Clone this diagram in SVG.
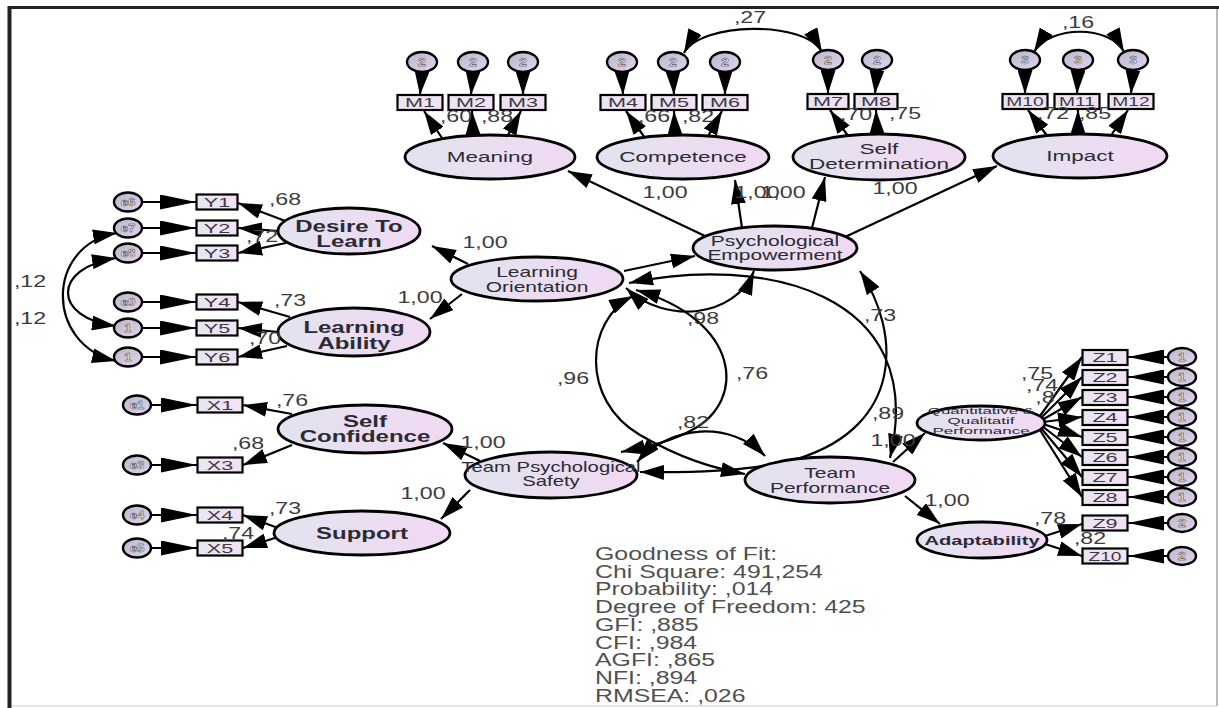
<svg xmlns="http://www.w3.org/2000/svg" width="1219" height="708" viewBox="0 0 1219 708">
<defs>
<linearGradient id="gl" x1="0" y1="0" x2="1" y2="0"><stop offset="0" stop-color="#e2e3ee"/><stop offset="1" stop-color="#f1d9f3"/></linearGradient>
<linearGradient id="gb" x1="0" y1="0" x2="1" y2="0"><stop offset="0" stop-color="#e9e5f1"/><stop offset="1" stop-color="#f3e1f4"/></linearGradient>
<linearGradient id="ge" x1="0" y1="0" x2="1" y2="1"><stop offset="0" stop-color="#b9b8cc"/><stop offset="1" stop-color="#e4d2ec"/></linearGradient>
<marker id="a" viewBox="0 0 24 15" refX="24" refY="7.5" markerWidth="24" markerHeight="15" markerUnits="userSpaceOnUse" orient="auto-start-reverse"><path d="M0,0 L24,7.5 L0,15 z" fill="#000"/></marker>
<marker id="b" viewBox="0 0 36 15" refX="36" refY="7.5" markerWidth="36" markerHeight="15" markerUnits="userSpaceOnUse" orient="auto-start-reverse"><path d="M0,0 L36,7.5 L0,15 z" fill="#000"/></marker>
</defs>
<style>
.lat{fill:url(#gl);stroke:#000;stroke-width:2.8}
.box{fill:url(#gb);stroke:#000;stroke-width:2.2}
.err{fill:url(#ge);stroke:#000;stroke-width:2.4}
.t{font-family:"Liberation Sans",Arial,sans-serif;text-anchor:middle;fill:#2b2b35}
.lt{font-size:15px}
.lb{font-size:16px;font-weight:bold}
.bt{font-size:12px;fill:#3a3a45}
.et{font-size:11px;font-weight:bold;fill:#eee;stroke:#333;stroke-width:0.4}
.n{font-family:"Liberation Sans",Arial,sans-serif;text-anchor:middle;font-size:16px;fill:#3c3c3c}
.g{font-family:"Liberation Sans",Arial,sans-serif;font-size:17.5px;fill:#505050}
.c path,.c line{fill:none;stroke:#000;stroke-width:2.2}
.ma{marker-end:url(#a)}
.mb{marker-end:url(#b)}
.m2{marker-start:url(#a);marker-end:url(#a)}
</style>
<rect x="0" y="0" width="1219" height="708" fill="#fff"/>
<g id="frame">
<line x1="8" y1="7.5" x2="1219" y2="7.5" stroke="#222" stroke-width="3"/>
<line x1="9.5" y1="6" x2="9.5" y2="708" stroke="#222" stroke-width="4"/>
<line x1="1217" y1="9" x2="1217" y2="706" stroke="#bbb" stroke-width="2"/>
<line x1="12" y1="706" x2="1217" y2="706" stroke="#ddd" stroke-width="1.5"/>
</g>

<g id="connectors" class="c">
<line class="ma" x1="422" y1="72" x2="420" y2="95"/>
<line class="ma" x1="473" y1="72" x2="471" y2="95"/>
<line class="ma" x1="523" y1="72" x2="523" y2="95"/>
<line class="ma" x1="622" y1="72" x2="623" y2="95"/>
<line class="ma" x1="673" y1="72" x2="674" y2="95"/>
<line class="ma" x1="725" y1="72" x2="725" y2="95"/>
<line class="ma" x1="828" y1="70" x2="828" y2="94"/>
<line class="ma" x1="877" y1="70" x2="875" y2="94"/>
<line class="ma" x1="1025" y1="70" x2="1025" y2="94"/>
<line class="ma" x1="1078" y1="70" x2="1077" y2="94"/>
<line class="ma" x1="1133" y1="70" x2="1131" y2="94"/>
<line class="mb" x1="142" y1="202" x2="196" y2="202"/>
<line class="mb" x1="142" y1="228" x2="196" y2="228"/>
<line class="mb" x1="142" y1="253" x2="196" y2="253"/>
<line class="mb" x1="142" y1="302" x2="196" y2="302"/>
<line class="mb" x1="142" y1="328" x2="196" y2="328"/>
<line class="mb" x1="142" y1="357" x2="196" y2="357"/>
<line class="mb" x1="151" y1="405" x2="197" y2="405"/>
<line class="mb" x1="151" y1="465" x2="197" y2="465"/>
<line class="mb" x1="151" y1="515" x2="197" y2="515"/>
<line class="mb" x1="151" y1="548" x2="197" y2="548"/>
<line class="mb" x1="1168" y1="357" x2="1128" y2="357"/>
<line class="mb" x1="1168" y1="377" x2="1128" y2="377"/>
<line class="mb" x1="1168" y1="397" x2="1128" y2="397"/>
<line class="mb" x1="1168" y1="417" x2="1128" y2="417"/>
<line class="mb" x1="1168" y1="437" x2="1128" y2="437"/>
<line class="mb" x1="1168" y1="457" x2="1128" y2="457"/>
<line class="mb" x1="1168" y1="477" x2="1128" y2="477"/>
<line class="mb" x1="1168" y1="497" x2="1128" y2="497"/>
<line class="mb" x1="1168" y1="523" x2="1128" y2="523"/>
<line class="mb" x1="1168" y1="556" x2="1128" y2="556"/>
<line class="ma" x1="442" y1="138" x2="424" y2="111"/>
<line class="ma" x1="473" y1="135" x2="472" y2="111"/>
<line class="ma" x1="507" y1="137" x2="521" y2="111"/>
<line class="ma" x1="645" y1="138" x2="626" y2="111"/>
<line class="ma" x1="675" y1="135" x2="674" y2="111"/>
<line class="ma" x1="707" y1="138" x2="722" y2="111"/>
<line class="ma" x1="848" y1="136" x2="830" y2="110"/>
<line class="ma" x1="877" y1="134" x2="876" y2="110"/>
<line class="ma" x1="1048" y1="137" x2="1028" y2="110"/>
<line class="ma" x1="1078" y1="134" x2="1078" y2="110"/>
<line class="ma" x1="1110" y1="137" x2="1128" y2="110"/>
<line class="ma" x1="705" y1="236" x2="568" y2="171"/>
<line class="ma" x1="742" y1="228" x2="735" y2="180"/>
<line class="ma" x1="812" y1="228" x2="825" y2="177"/>
<line class="ma" x1="845" y1="237" x2="997" y2="166"/>
<line class="ma" x1="468" y1="264" x2="432" y2="246"/>
<line class="ma" x1="462" y1="294" x2="430" y2="319"/>
<line class="ma" x1="480" y1="461" x2="443" y2="443"/>
<line class="ma" x1="470" y1="490" x2="441" y2="519"/>
<line class="ma" x1="288" y1="222" x2="238" y2="203"/>
<line class="ma" x1="278" y1="231" x2="238" y2="228"/>
<line class="ma" x1="286" y1="243" x2="238" y2="253"/>
<line class="ma" x1="290" y1="317" x2="238" y2="302"/>
<line class="ma" x1="278" y1="332" x2="238" y2="328"/>
<line class="ma" x1="287" y1="346" x2="238" y2="357"/>
<line class="ma" x1="292" y1="414" x2="243" y2="405"/>
<line class="ma" x1="292" y1="445" x2="243" y2="465"/>
<line class="ma" x1="278" y1="528" x2="243" y2="515"/>
<line class="ma" x1="278" y1="537" x2="243" y2="548"/>
<line class="ma" x1="1040" y1="416" x2="1082" y2="357"/>
<line class="ma" x1="1041" y1="418" x2="1082" y2="377"/>
<line class="ma" x1="1042" y1="420" x2="1082" y2="397"/>
<line class="ma" x1="1043" y1="422" x2="1082" y2="417"/>
<line class="ma" x1="1043" y1="424" x2="1082" y2="437"/>
<line class="ma" x1="1042" y1="426" x2="1082" y2="457"/>
<line class="ma" x1="1041" y1="428" x2="1082" y2="477"/>
<line class="ma" x1="1040" y1="430" x2="1082" y2="497"/>
<line class="ma" x1="1045" y1="536" x2="1082" y2="524"/>
<line class="ma" x1="1045" y1="544" x2="1082" y2="556"/>
<line class="ma" x1="893" y1="462" x2="925" y2="433"/>
<line class="ma" x1="905" y1="496" x2="940" y2="524"/>
<path class="m2" d="M117,233 C45,245 45,345 116,361"/>
<path class="m2" d="M116,258 C52,268 52,318 116,326"/>
<path class="m2" d="M684,53 C700,22 805,20 822,52"/>
<path class="m2" d="M1034,52 C1050,25 1110,25 1124,52"/>
<line class="ma" x1="624" y1="271" x2="695" y2="256"/>
<path class="m2" d="M626,288 C665,325 735,318 754,271"/>
<path class="m2" d="M629,283 C760,255 930,290 890,458"/>
<path class="m2" d="M860,271 C902,335 902,425 800,458 C760,470 700,473 640,472"/>
<path class="m2" d="M633,296 C585,320 580,400 640,435 C680,458 712,468 745,474"/>
<path class="m2" d="M636,290 C740,320 748,400 692,430 C668,443 645,447 621,452"/>
<path class="m2" d="M637,462 C670,425 730,420 765,456"/>
</g>

<g id="errors">
<ellipse class="err" cx="422" cy="62" rx="15" ry="10"/><text class="t et" transform="matrix(1.3 0 0 1 422 66)">2</text>
<ellipse class="err" cx="473" cy="62" rx="15" ry="10"/><text class="t et" transform="matrix(1.3 0 0 1 473 66)">2</text>
<ellipse class="err" cx="523" cy="62" rx="15" ry="10"/><text class="t et" transform="matrix(1.3 0 0 1 523 66)">2</text>
<ellipse class="err" cx="622" cy="62" rx="15" ry="10"/><text class="t et" transform="matrix(1.3 0 0 1 622 66)">2</text>
<ellipse class="err" cx="673" cy="62" rx="15" ry="10"/><text class="t et" transform="matrix(1.3 0 0 1 673 66)">2</text>
<ellipse class="err" cx="725" cy="62" rx="15" ry="10"/><text class="t et" transform="matrix(1.3 0 0 1 725 66)">2</text>
<ellipse class="err" cx="828" cy="60" rx="15" ry="10"/><text class="t et" transform="matrix(1.3 0 0 1 828 64)">2</text>
<ellipse class="err" cx="877" cy="60" rx="15" ry="10"/><text class="t et" transform="matrix(1.3 0 0 1 877 64)">2</text>
<ellipse class="err" cx="1025" cy="60" rx="15" ry="10"/><text class="t et" transform="matrix(1.3 0 0 1 1025 64)">3</text>
<ellipse class="err" cx="1078" cy="60" rx="15" ry="10"/><text class="t et" transform="matrix(1.3 0 0 1 1078 64)">3</text>
<ellipse class="err" cx="1133" cy="60" rx="15" ry="10"/><text class="t et" transform="matrix(1.3 0 0 1 1133 64)">3</text>
<ellipse class="err" cx="128" cy="202" rx="14" ry="9.5"/><text class="t et" transform="matrix(1.2 0 0 1 128 206)">e6</text>
<ellipse class="err" cx="128" cy="228" rx="14" ry="9.5"/><text class="t et" transform="matrix(1.2 0 0 1 128 232)">e7</text>
<ellipse class="err" cx="128" cy="253" rx="14" ry="9.5"/><text class="t et" transform="matrix(1.2 0 0 1 128 257)">e8</text>
<ellipse class="err" cx="128" cy="302" rx="14" ry="9.5"/><text class="t et" transform="matrix(1.2 0 0 1 128 306)">e9</text>
<ellipse class="err" cx="128" cy="328" rx="14" ry="9.5"/><text class="t et" transform="matrix(1.2 0 0 1 128 332)">1</text>
<ellipse class="err" cx="128" cy="357" rx="14" ry="9.5"/><text class="t et" transform="matrix(1.2 0 0 1 128 361)">1</text>
<ellipse class="err" cx="137" cy="405" rx="14" ry="9.5"/><text class="t et" transform="matrix(1.2 0 0 1 137 409)">e1</text>
<ellipse class="err" cx="137" cy="465" rx="14" ry="9.5"/><text class="t et" transform="matrix(1.2 0 0 1 137 469)">e3</text>
<ellipse class="err" cx="137" cy="515" rx="14" ry="9.5"/><text class="t et" transform="matrix(1.2 0 0 1 137 519)">e4</text>
<ellipse class="err" cx="137" cy="548" rx="14" ry="9.5"/><text class="t et" transform="matrix(1.2 0 0 1 137 552)">e5</text>
<ellipse class="err" cx="1182" cy="357" rx="14" ry="9"/><text class="t et" transform="matrix(1.3 0 0 1 1182 361)">1</text>
<ellipse class="err" cx="1182" cy="377" rx="14" ry="9"/><text class="t et" transform="matrix(1.3 0 0 1 1182 381)">1</text>
<ellipse class="err" cx="1182" cy="397" rx="14" ry="9"/><text class="t et" transform="matrix(1.3 0 0 1 1182 401)">1</text>
<ellipse class="err" cx="1182" cy="417" rx="14" ry="9"/><text class="t et" transform="matrix(1.3 0 0 1 1182 421)">1</text>
<ellipse class="err" cx="1182" cy="437" rx="14" ry="9"/><text class="t et" transform="matrix(1.3 0 0 1 1182 441)">1</text>
<ellipse class="err" cx="1182" cy="457" rx="14" ry="9"/><text class="t et" transform="matrix(1.3 0 0 1 1182 461)">1</text>
<ellipse class="err" cx="1182" cy="477" rx="14" ry="9"/><text class="t et" transform="matrix(1.3 0 0 1 1182 481)">1</text>
<ellipse class="err" cx="1182" cy="497" rx="14" ry="9"/><text class="t et" transform="matrix(1.3 0 0 1 1182 501)">1</text>
<ellipse class="err" cx="1182" cy="523" rx="14" ry="9"/><text class="t et" transform="matrix(1.3 0 0 1 1182 527)">2</text>
<ellipse class="err" cx="1182" cy="556" rx="14" ry="9"/><text class="t et" transform="matrix(1.3 0 0 1 1182 560)">2</text>
</g>

<g id="indicators">
<g id="M1"><rect class="box" x="397.5" y="95" width="45" height="15"/><text class="t bt" transform="matrix(1.8 0 0 1 420 107)">M1</text></g>
<g id="M2"><rect class="box" x="448.5" y="95" width="45" height="15"/><text class="t bt" transform="matrix(1.8 0 0 1 471 107)">M2</text></g>
<g id="M3"><rect class="box" x="500.5" y="95" width="45" height="15"/><text class="t bt" transform="matrix(1.8 0 0 1 523 107)">M3</text></g>
<g id="M4"><rect class="box" x="600.5" y="95" width="45" height="15"/><text class="t bt" transform="matrix(1.8 0 0 1 623 107)">M4</text></g>
<g id="M5"><rect class="box" x="651.5" y="95" width="45" height="15"/><text class="t bt" transform="matrix(1.8 0 0 1 674 107)">M5</text></g>
<g id="M6"><rect class="box" x="702.5" y="95" width="45" height="15"/><text class="t bt" transform="matrix(1.8 0 0 1 725 107)">M6</text></g>
<g id="M7"><rect class="box" x="807.5" y="94" width="41" height="15"/><text class="t bt" transform="matrix(1.8 0 0 1 828 106)">M7</text></g>
<g id="M8"><rect class="box" x="854.5" y="94" width="43" height="15"/><text class="t bt" transform="matrix(1.8 0 0 1 876 106)">M8</text></g>
<g id="M10"><rect class="box" x="1002.5" y="94" width="45" height="15"/><text class="t bt" transform="matrix(1.6 0 0 1 1025 106)">M10</text></g>
<g id="M11"><rect class="box" x="1054.5" y="94" width="45" height="15"/><text class="t bt" transform="matrix(1.6 0 0 1 1077 106)">M11</text></g>
<g id="M12"><rect class="box" x="1108.5" y="94" width="45" height="15"/><text class="t bt" transform="matrix(1.6 0 0 1 1131 106)">M12</text></g>
<g id="Y1"><rect class="box" x="196.5" y="194.5" width="41" height="15"/><text class="t bt" transform="matrix(1.8 0 0 1 217 206.5)">Y1</text></g>
<g id="Y2"><rect class="box" x="196.5" y="220.5" width="41" height="15"/><text class="t bt" transform="matrix(1.8 0 0 1 217 232.5)">Y2</text></g>
<g id="Y3"><rect class="box" x="196.5" y="245.5" width="41" height="15"/><text class="t bt" transform="matrix(1.8 0 0 1 217 257.5)">Y3</text></g>
<g id="Y4"><rect class="box" x="196.5" y="294.5" width="41" height="15"/><text class="t bt" transform="matrix(1.8 0 0 1 217 306.5)">Y4</text></g>
<g id="Y5"><rect class="box" x="196.5" y="320.5" width="41" height="15"/><text class="t bt" transform="matrix(1.8 0 0 1 217 332.5)">Y5</text></g>
<g id="Y6"><rect class="box" x="196.5" y="349.5" width="41" height="15"/><text class="t bt" transform="matrix(1.8 0 0 1 217 361.5)">Y6</text></g>
<g id="X1"><rect class="box" x="197.5" y="397.5" width="45" height="15"/><text class="t bt" transform="matrix(1.8 0 0 1 220 409.5)">X1</text></g>
<g id="X3"><rect class="box" x="197.5" y="457.5" width="45" height="15"/><text class="t bt" transform="matrix(1.8 0 0 1 220 469.5)">X3</text></g>
<g id="X4"><rect class="box" x="197.5" y="507.5" width="45" height="15"/><text class="t bt" transform="matrix(1.8 0 0 1 220 519.5)">X4</text></g>
<g id="X5"><rect class="box" x="197.5" y="540.5" width="45" height="15"/><text class="t bt" transform="matrix(1.8 0 0 1 220 552.5)">X5</text></g>
<g id="Z1"><rect class="box" x="1082.5" y="350" width="45" height="15"/><text class="t bt" transform="matrix(1.8 0 0 1 1105 362)">Z1</text></g>
<g id="Z2"><rect class="box" x="1082.5" y="370" width="45" height="15"/><text class="t bt" transform="matrix(1.8 0 0 1 1105 382)">Z2</text></g>
<g id="Z3"><rect class="box" x="1082.5" y="390" width="45" height="15"/><text class="t bt" transform="matrix(1.8 0 0 1 1105 402)">Z3</text></g>
<g id="Z4"><rect class="box" x="1082.5" y="410" width="45" height="15"/><text class="t bt" transform="matrix(1.8 0 0 1 1105 422)">Z4</text></g>
<g id="Z5"><rect class="box" x="1082.5" y="430" width="45" height="15"/><text class="t bt" transform="matrix(1.8 0 0 1 1105 442)">Z5</text></g>
<g id="Z6"><rect class="box" x="1082.5" y="450" width="45" height="15"/><text class="t bt" transform="matrix(1.8 0 0 1 1105 462)">Z6</text></g>
<g id="Z7"><rect class="box" x="1082.5" y="470" width="45" height="15"/><text class="t bt" transform="matrix(1.8 0 0 1 1105 482)">Z7</text></g>
<g id="Z8"><rect class="box" x="1082.5" y="490" width="45" height="15"/><text class="t bt" transform="matrix(1.8 0 0 1 1105 502)">Z8</text></g>
<g id="Z9"><rect class="box" x="1082.5" y="515.5" width="45" height="15"/><text class="t bt" transform="matrix(1.8 0 0 1 1105 527.5)">Z9</text></g>
<g id="Z10"><rect class="box" x="1082.5" y="548.5" width="45" height="15"/><text class="t bt" transform="matrix(1.6 0 0 1 1105 560.5)">Z10</text></g>
</g>

<g id="latents">
<g id="meaning"><ellipse class="lat" cx="490" cy="157" rx="85" ry="22"/><text class="t lt" transform="matrix(1.5 0 0 1 490 162)">Meaning</text></g>
<g id="competence"><ellipse class="lat" cx="683" cy="157" rx="86" ry="22"/><text class="t lt" transform="matrix(1.5 0 0 1 683 162)">Competence</text></g>
<g id="selfdet"><ellipse class="lat" cx="879" cy="157" rx="86" ry="23"/><text class="t lt" transform="matrix(1.5 0 0 1 879 154)"><tspan x="0">Self</tspan><tspan x="0" dy="15">Determination</tspan></text></g>
<g id="impact"><ellipse class="lat" cx="1080" cy="156" rx="87" ry="22"/><text class="t lt" transform="matrix(1.5 0 0 1 1080 161)">Impact</text></g>
<g id="desire"><ellipse class="lat" cx="349" cy="231" rx="71" ry="23"/><text class="t lb" transform="matrix(1.5 0 0 1 349 232)"><tspan x="0">Desire To</tspan><tspan x="0" dy="15">Learn</tspan></text></g>
<g id="ability"><ellipse class="lat" cx="354" cy="332" rx="76" ry="24"/><text class="t lb" transform="matrix(1.5 0 0 1 354 333)"><tspan x="0">Learning</tspan><tspan x="0" dy="16">Ability</tspan></text></g>
<g id="selfconf"><ellipse class="lat" cx="365" cy="429" rx="87" ry="24"/><text class="t lb" transform="matrix(1.5 0 0 1 365 427)"><tspan x="0">Self</tspan><tspan x="0" dy="15">Confidence</tspan></text></g>
<g id="support"><ellipse class="lat" cx="362" cy="533" rx="88" ry="22"/><text class="t lb" transform="matrix(1.5 0 0 1 362 539)">Support</text></g>
<g id="lo"><ellipse class="lat" cx="537" cy="279" rx="86" ry="22"/><text class="t" font-size="14" transform="matrix(1.5 0 0 1 537 277)"><tspan x="0">Learning</tspan><tspan x="0" dy="15">Orientation</tspan></text></g>
<g id="pe"><ellipse class="lat" cx="775" cy="248" rx="82" ry="22"/><text class="t" font-size="14" transform="matrix(1.5 0 0 1 775 246)"><tspan x="0">Psychological</tspan><tspan x="0" dy="14">Empowerment</tspan></text></g>
<g id="tps"><ellipse class="lat" cx="551" cy="475" rx="86" ry="23"/><text class="t" font-size="14" transform="matrix(1.45 0 0 1 551 472)"><tspan x="0">Team Psychological</tspan><tspan x="0" dy="14">Safety</tspan></text></g>
<g id="tp"><ellipse class="lat" cx="830" cy="480" rx="85" ry="23"/><text class="t" font-size="14" transform="matrix(1.5 0 0 1 830 478)"><tspan x="0">Team</tspan><tspan x="0" dy="15">Performance</tspan></text></g>
<g id="qqp"><ellipse class="lat" cx="981" cy="423" rx="64" ry="17"/><text class="t" font-size="8.5" transform="matrix(2 0 0 1 981 414)"><tspan x="0">Quantitative &amp;</tspan><tspan x="0" dy="10">Qualitatif</tspan><tspan x="0" dy="10">Performance</tspan></text></g>
<g id="adapt"><ellipse class="lat" cx="982" cy="540" rx="65" ry="18"/><text class="t" font-size="13" font-weight="bold" transform="matrix(1.55 0 0 1 982 545)">Adaptability</text></g>
</g>

<g id="labels">
<text class="n" transform="matrix(1.45 0 0 1 750 23)">,27</text>
<text class="n" transform="matrix(1.45 0 0 1 1078 28)">,16</text>
<text class="n" transform="matrix(1.45 0 0 1 456 122)">,60</text>
<text class="n" transform="matrix(1.45 0 0 1 497 122)">,88</text>
<text class="n" transform="matrix(1.45 0 0 1 654 122)">,66</text>
<text class="n" transform="matrix(1.45 0 0 1 698 122)">,82</text>
<text class="n" transform="matrix(1.45 0 0 1 856 120)">,70</text>
<text class="n" transform="matrix(1.45 0 0 1 905 119)">,75</text>
<text class="n" transform="matrix(1.45 0 0 1 1053 119)">,72</text>
<text class="n" transform="matrix(1.45 0 0 1 1095 119)">,85</text>
<text class="n" transform="matrix(1.45 0 0 1 665 198)">1,00</text>
<text class="n" transform="matrix(1.45 0 0 1 757 198)">1,00</text>
<text class="n" transform="matrix(1.45 0 0 1 783 198)">1,00</text>
<text class="n" transform="matrix(1.45 0 0 1 895 194)">1,00</text>
<text class="n" transform="matrix(1.45 0 0 1 285 205)">,68</text>
<text class="n" transform="matrix(1.45 0 0 1 262 242)">,72</text>
<text class="n" transform="matrix(1.45 0 0 1 290 306)">,73</text>
<text class="n" transform="matrix(1.45 0 0 1 265 344)">,70</text>
<text class="n" transform="matrix(1.45 0 0 1 292 406)">,76</text>
<text class="n" transform="matrix(1.45 0 0 1 248 449)">,68</text>
<text class="n" transform="matrix(1.45 0 0 1 285 514)">,73</text>
<text class="n" transform="matrix(1.45 0 0 1 238 539)">,74</text>
<text class="n" transform="matrix(1.45 0 0 1 30 287)">,12</text>
<text class="n" transform="matrix(1.45 0 0 1 30 324)">,12</text>
<text class="n" transform="matrix(1.45 0 0 1 485 248)">1,00</text>
<text class="n" transform="matrix(1.45 0 0 1 420 303)">1,00</text>
<text class="n" transform="matrix(1.45 0 0 1 483 448)">1,00</text>
<text class="n" transform="matrix(1.45 0 0 1 423 499)">1,00</text>
<text class="n" transform="matrix(1.45 0 0 1 703 324)">,98</text>
<text class="n" transform="matrix(1.45 0 0 1 573 384)">,96</text>
<text class="n" transform="matrix(1.45 0 0 1 752 379)">,76</text>
<text class="n" transform="matrix(1.45 0 0 1 693 428)">,82</text>
<text class="n" transform="matrix(1.45 0 0 1 880 321)">,73</text>
<text class="n" transform="matrix(1.45 0 0 1 888 419)">,89</text>
<text class="n" transform="matrix(1.45 0 0 1 893 446)">1,00</text>
<text class="n" transform="matrix(1.45 0 0 1 947 506)">1,00</text>
<text class="n" transform="matrix(1.45 0 0 1 1037 379)">,75</text>
<text class="n" transform="matrix(1.45 0 0 1 1042 391)">,74</text>
<text class="n" transform="matrix(1.45 0 0 1 1045 403)">,8</text>
<text class="n" transform="matrix(1.45 0 0 1 1050 524)">,78</text>
<text class="n" transform="matrix(1.45 0 0 1 1090 544)">,82</text>
</g>

<g id="fit">
<text class="g" transform="matrix(1.42 0 0 1 595 0)">
<tspan x="0" y="560">Goodness of Fit:</tspan>
<tspan x="0" y="578">Chi Square: 491,254</tspan>
<tspan x="0" y="595.5">Probability: ,014</tspan>
<tspan x="0" y="613">Degree of Freedom: 425</tspan>
<tspan x="0" y="631">GFI: ,885</tspan>
<tspan x="0" y="649">CFI: ,984</tspan>
<tspan x="0" y="666.5">AGFI: ,865</tspan>
<tspan x="0" y="684">NFI: ,894</tspan>
<tspan x="0" y="702">RMSEA: ,026</tspan>
</text>
</g>
</svg>
